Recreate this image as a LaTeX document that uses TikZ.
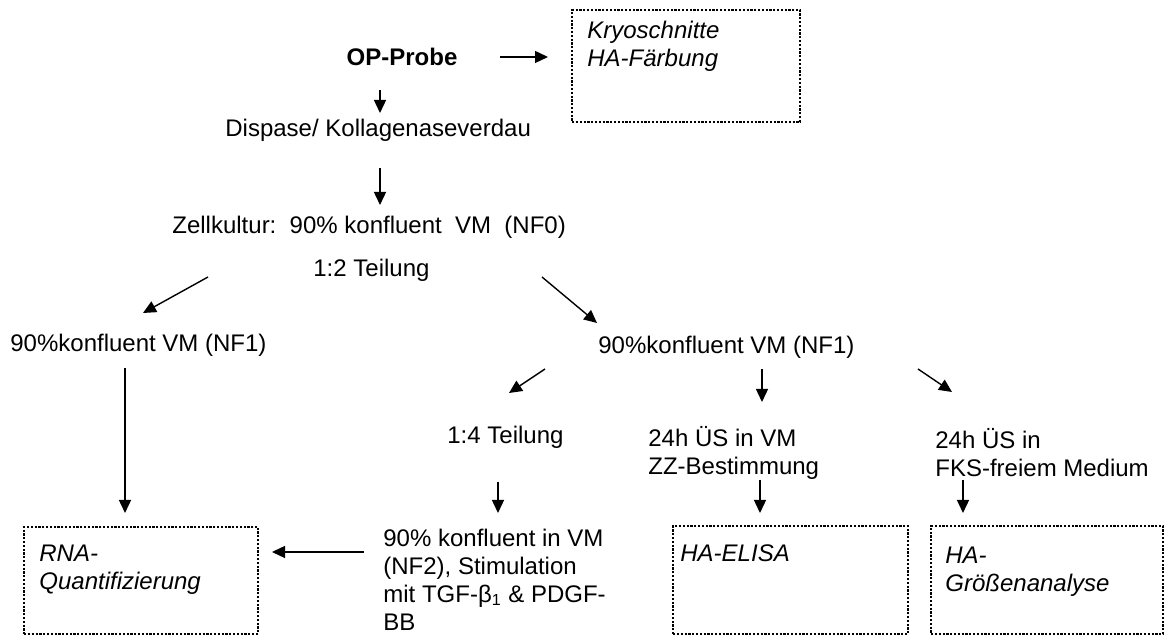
\documentclass[tikz,border=0pt]{standalone}
\usepackage{fontspec}
\setmainfont{Liberation Sans}
\usetikzlibrary{arrows.meta}
\begin{document}
\begin{tikzpicture}[x=0.5pt,y=-0.5pt,
  txt/.style={inner sep=0pt, font=\fontsize{12}{14}\selectfont, anchor=base west},
  mtxt/.style={inner sep=0pt, font=\fontsize{12}{14}\selectfont, align=left, anchor=north west},
  itxt/.style={mtxt, font=\fontsize{12}{14}\selectfont\itshape},
  dbox/.style={draw, line width=1.1pt, dash pattern=on 1.1pt off 0.8pt, inner sep=0pt, anchor=north west},
  arr/.style={-{Triangle[length=6.5pt,width=6pt]}, line width=0.7pt},
]
\fill[white] (0,0) rectangle (1164,635);
\useasboundingbox (0,0) rectangle (1164,635);

% text nodes
\node[inner sep=0pt, font=\fontsize{12}{14}\selectfont\bfseries] (op) at (402,57) {OP-Probe};
\node[txt] (disp) at (225,136.6) {Dispase/ Kollagenaseverdau};
\node[txt] (zell) at (172,233.6) {Zellkultur:\ \ 90\% konfluent\ \ VM\ \ (NF0)};
\node[txt] (teil12) at (313,276.6) {1:2 Teilung};
\node[txt] (nf1L) at (10,351.6) {90\%konfluent VM (NF1)};
\node[txt] (nf1R) at (598,353.6) {90\%konfluent VM (NF1)};
\node[txt] (teil14) at (447,443.6) {1:4 Teilung};
\node[mtxt] (zz) at (648,426.4) {24h ÜS in VM\\ZZ-Bestimmung};
\node[mtxt] (fks) at (935,428.4) {24h ÜS in\\FKS-freiem Medium};
\node[mtxt] (nf2) at (383,528.4) {90\% konfluent in VM\\(NF2), Stimulation\\mit TGF-β\textsubscript{1} \& PDGF-\\BB};

% dotted boxes
\node[dbox, minimum width=114pt, minimum height=56pt] (kryo) at (571,9) {};
\node[dbox, minimum width=117pt, minimum height=53.5pt] (rna) at (23,526) {};
\node[dbox, minimum width=117.5pt, minimum height=54pt] (elisa) at (672,525) {};
\node[dbox, minimum width=116pt, minimum height=54pt] (groes) at (930,525) {};

% box texts
\node[itxt] (kryoT) at ([shift={(16,12)}]kryo.north west) {Kryoschnitte\\HA-Färbung};
\node[itxt] (rnaT) at ([shift={(16,18.4)}]rna.north west) {RNA-\\Quantifizierung};
\node[itxt] (elisaT) at ([shift={(8,19.4)}]elisa.north west) {HA-ELISA};
\node[itxt] (groesT) at ([shift={(15,21.4)}]groes.north west) {HA-\\Größenanalyse};

% connectors
\draw[arr] ([shift={(98,0)}]op.center) -- ([shift={(-23,48)}]kryo.north west);
\draw[arr] ([shift={(-22,33)}]op.center) -- ([shift={(155,-23.6)}]disp.base west);
\draw[arr] ([shift={(155,31.4)}]disp.base west) -- ([shift={(208,-28.6)}]zell.base west);
\draw[arr] ([shift={(-105,0.4)}]teil12.base west) -- ([shift={(133,-38.6)}]nf1L.base west);
\draw[arr] ([shift={(229,0.4)}]teil12.base west) -- ([shift={(-1,-30.6)}]nf1R.base west);
\draw[arr] ([shift={(115,16.4)}]nf1L.base west) -- ([shift={(102,-13)}]rna.north west);
\draw[arr] ([shift={(-53,15.4)}]nf1R.base west) -- ([shift={(62,-50.6)}]teil14.base west);
\draw[arr] ([shift={(164,15.4)}]nf1R.base west) -- ([shift={(114,-24.4)}]zz.north west);
\draw[arr] ([shift={(320,15.4)}]nf1R.base west) -- ([shift={(17,-36.4)}]fks.north west);
\draw[arr] ([shift={(51,38.4)}]teil14.base west) -- ([shift={(115,-15.4)}]nf2.north west);
\draw[arr] ([shift={(112,53.6)}]zz.north west) -- ([shift={(88,-12)}]elisa.north west);
\draw[arr] ([shift={(28,51.6)}]fks.north west) -- ([shift={(33,-12)}]groes.north west);
\draw[arr] ([shift={(-19,23.6)}]nf2.north west) -- ([shift={(249,26)}]rna.north west);
\end{tikzpicture}
\end{document}
